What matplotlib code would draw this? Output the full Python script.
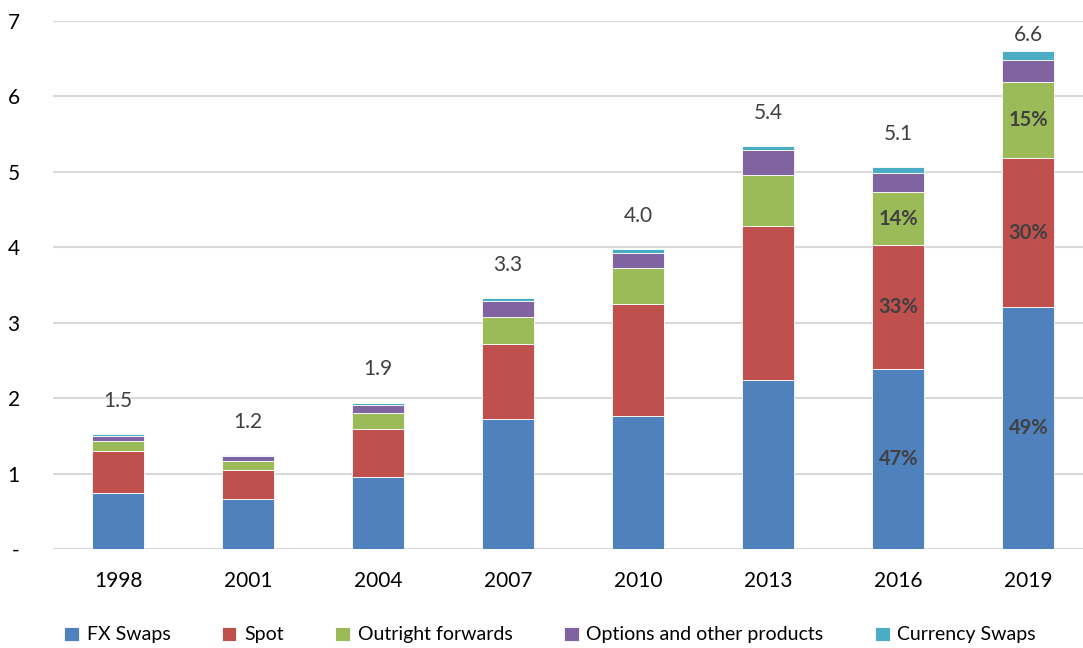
import matplotlib.pyplot as plt
import numpy as np

# === Data ===
YEARS = ["1998", "2001", "2004", "2007", "2010", "2013", "2016", "2019"]
FX_SWAPS = [0.74, 0.66, 0.95, 1.72, 1.76, 2.24, 2.39, 3.21]
SPOT = [0.56, 0.39, 0.64, 1.00, 1.49, 2.04, 1.64, 1.97]
OUTRIGHT = [0.13, 0.12, 0.21, 0.36, 0.48, 0.68, 0.70, 1.01]
OPTIONS = [0.07, 0.06, 0.11, 0.21, 0.19, 0.33, 0.25, 0.29]
CURRENCY_SWAPS = [0.02, 0.02, 0.03, 0.04, 0.06, 0.05, 0.08, 0.12]
TOTAL_LABELS = ["1.5", "1.2", "1.9", "3.3", "4.0", "5.4", "5.1", "6.6"]

# share labels shown on the last two bars (FX swaps, spot, outright)
SHARE_LABELS = {
    6: ["47%", "33%", "14%"],
    7: ["49%", "30%", "15%"],
}

SERIES = [
    ("FX Swaps", FX_SWAPS, "#4F81BD"),
    ("Spot", SPOT, "#C0504D"),
    ("Outright forwards", OUTRIGHT, "#9BBB59"),
    ("Options and other products", OPTIONS, "#8064A2"),
    ("Currency Swaps", CURRENCY_SWAPS, "#4BACC6"),
]

plt.rcParams["font.family"] = ["Lato", "DejaVu Sans"]

fig = plt.figure(figsize=(10.83, 6.48), dpi=100)
ax = fig.add_axes([53 / 1083, 99 / 648, 1030 / 1083, 528 / 648])

x = np.arange(len(YEARS))
width = 0.4
bottom = np.zeros(len(YEARS))
for name, vals, color in SERIES:
    vals = np.array(vals)
    ax.bar(x, vals, width, bottom=bottom, color=color, label=name,
           edgecolor="white", linewidth=0.6, zorder=3)
    bottom += vals

totals = bottom

# share labels
for i, labels in SHARE_LABELS.items():
    base = 0.0
    for (name, vals, color), lab in zip(SERIES[:3], labels):
        ax.text(i, base + vals[i] / 2, lab, ha="center", va="center",
                fontsize=14.5, fontweight="bold", color="#404040", zorder=4)
        base += vals[i]

# total labels
for i, (t, lab) in enumerate(zip(totals, TOTAL_LABELS)):
    y = min(t + 0.44, 6.82)
    ax.text(i, y, lab, ha="center", va="center", fontsize=15, color="#404040")

ax.set_xlim(-0.5, 7.42)
ax.set_ylim(0, 7)
ax.set_yticks(range(0, 8))
ax.set_yticklabels(["-"] + [str(v) for v in range(1, 8)])
ax.set_xticks(x)
ax.set_xticklabels(YEARS)
ax.tick_params(axis="both", length=0, labelsize=15, colors="black")
ax.tick_params(axis="y", pad=24)
ax.tick_params(axis="x", pad=16)
ax.grid(True, axis="y", color="#D9D9D9", linewidth=1.5, zorder=0)
for s in ax.spines.values():
    s.set_visible(False)

fig.legend(loc="lower center", bbox_to_anchor=(0.508, -0.02), ncol=5, frameon=False,
           fontsize=14, handlelength=0.75, handleheight=0.75, handletextpad=0.4,
           columnspacing=2.65)

fig.savefig("out.png", dpi=100)
